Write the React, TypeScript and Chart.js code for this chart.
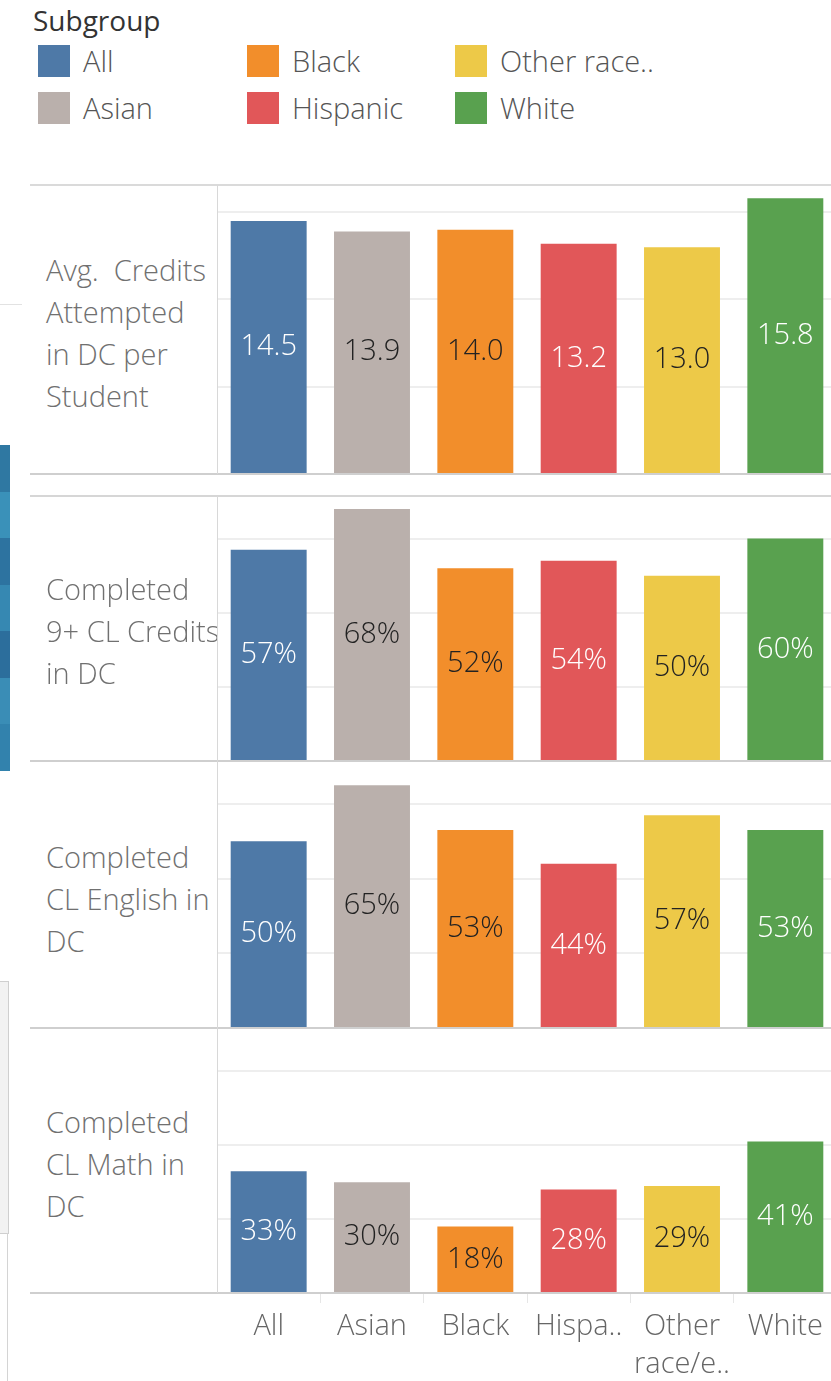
import React, { useEffect, useRef } from "react";
import { Chart, registerables } from "chart.js";

Chart.register(...registerables);

// Categories and labels
const subgroups = ["All", "Asian", "Black", "Hispanic", "Other race/ethnicity", "White"];
const axisLabels = [["All"], ["Asian"], ["Black"], ["Hispa.."], ["Other", "race/e.."], ["White"]];
const legendLabels = ["All", "Asian", "Black", "Hispanic", "Other race..", "White"];
const subgroupColors = ["#4e79a7", "#bab0ac", "#f28e2b", "#e15759", "#edc948", "#59a14f"];
const valueTextColors = ["#ffffff", "#222222", "#222222", "#ffffff", "#222222", "#ffffff"];

// Row headers, one entry per line
const metricTitles = [
  ["Avg.  Credits", "Attempted", "in DC per", "Student"],
  ["Completed", "9+ CL Credits", "in DC"],
  ["Completed", "CL English in", "DC"],
  ["Completed", "CL Math in", "DC"],
];

// Series values, in subgroup order
const avgCreditsAttempted = [14.5, 13.9, 14.0, 13.2, 13.0, 15.8];
const completed9PlusCredits = [57, 68, 52, 54, 50, 60];
const completedEnglish = [50, 65, 53, 44, 57, 53];
const completedMath = [33, 30, 18, 28, 29, 41];

// Gridline positions
const creditGridTicks = [0, 5, 10, 15];
const percentGridTicks = [0, 20, 40, 60];

const FONT = '"Open Sans", "Noto Sans", sans-serif';
const FONT_SIZE = 29;
const PLOT_LEFT = 217;
const PLOT_WIDTH = 620;
const AXIS_HEIGHT = 88;

type PanelProps = {
  values: number[];
  max: number;
  gridTicks: number[];
  format: (v: number) => string;
  top: number;
  plotHeight: number;
  showAxis: boolean;
};

function Panel({ values, max, gridTicks, format, top, plotHeight, showAxis }: PanelProps) {
  const ref = useRef<HTMLCanvasElement>(null);
  const height = plotHeight + (showAxis ? AXIS_HEIGHT : 0);

  useEffect(() => {
    const valueLabels = {
      id: "valueLabels",
      afterDatasetsDraw(chart: any) {
        const { ctx } = chart;
        const meta = chart.getDatasetMeta(0);
        ctx.save();
        ctx.font = `300 ${FONT_SIZE}px ${FONT}`;
        ctx.textAlign = "center";
        ctx.textBaseline = "middle";
        meta.data.forEach((bar: any, i: number) => {
          ctx.fillStyle = valueTextColors[i];
          ctx.fillText(format(values[i]), bar.x, (bar.y + bar.base) / 2);
        });
        ctx.restore();
      },
    };

    const chart = new Chart(ref.current as HTMLCanvasElement, {
      type: "bar",
      data: {
        labels: axisLabels as any,
        datasets: [
          {
            data: values,
            backgroundColor: subgroupColors,
            borderWidth: 0,
            barPercentage: 0.735,
            categoryPercentage: 1,
          },
        ],
      },
      options: {
        responsive: false,
        animation: false,
        devicePixelRatio: 1,
        layout: { padding: 0 },
        plugins: { legend: { display: false }, tooltip: { enabled: false } },
        scales: {
          x: {
            display: showAxis,
            offset: true,
            border: { display: false },
            grid: {
              display: true,
              offset: true,
              drawOnChartArea: false,
              drawTicks: true,
              tickLength: 10,
              color: "#e6e6e6",
              lineWidth: 1,
            },
            ticks: {
              autoSkip: false,
              maxRotation: 0,
              minRotation: 0,
              padding: 4,
              color: "#666666",
              font: { family: FONT, size: FONT_SIZE, weight: "300", lineHeight: 1.33 } as any,
            },
            afterFit: (scale: any) => {
              if (showAxis) scale.height = AXIS_HEIGHT;
            },
          },
          y: {
            display: true,
            min: 0,
            max,
            border: { display: false },
            grid: { color: "#eeeeee", lineWidth: 2, drawTicks: false },
            ticks: { display: false },
            afterBuildTicks: (scale: any) => {
              scale.ticks = gridTicks.map((v) => ({ value: v }));
            },
          },
        },
      },
      plugins: [valueLabels],
    });
    return () => chart.destroy();
  }, []);

  return (
    <canvas
      ref={ref}
      width={PLOT_WIDTH}
      height={height}
      style={{ position: "absolute", left: PLOT_LEFT, top, width: PLOT_WIDTH, height }}
    />
  );
}

function HLine({ y, color = "#cfcfcf" }: { y: number; color?: string }) {
  return (
    <div style={{ position: "absolute", left: 30, top: y - 1, width: 801, height: 2, background: color, zIndex: 2 }} />
  );
}

function VLine({ x, y1, y2 }: { x: number; y1: number; y2: number }) {
  return <div style={{ position: "absolute", left: x, top: y1, width: 1, height: y2 - y1, background: "#d8d8d8", zIndex: 2 }} />;
}

const panels = [
  { values: avgCreditsAttempted, max: 16.56, grid: creditGridTicks, fmt: (v: number) => v.toFixed(1), top: 185, h: 289, titleTop: 249 },
  { values: completed9PlusCredits, max: 71.5, grid: percentGridTicks, fmt: (v: number) => `${v}%`, top: 496, h: 265, titleTop: 568 },
  { values: completedEnglish, max: 71.5, grid: percentGridTicks, fmt: (v: number) => `${v}%`, top: 761, h: 267, titleTop: 836 },
  { values: completedMath, max: 71.5, grid: percentGridTicks, fmt: (v: number) => `${v}%`, top: 1029, h: 264, titleTop: 1101 },
];

// Legend laid out column by column: [All, Asian], [Black, Hispanic], [Other race.., White]
const legendColX = [38, 247, 455];
const legendRowY = [45, 92];

export default function App() {
  return (
    <div
      style={{
        position: "absolute",
        left: 0,
        top: 0,
        width: 831,
        height: 1381,
        overflow: "hidden",
        background: "#ffffff",
        fontFamily: FONT,
        fontWeight: 300,
      }}
    >
      {/* neighbouring dashboard pieces at the left edge */}
      <div style={{ position: "absolute", left: 0, top: 304, width: 22, height: 1, background: "#e2e2e2" }} />
      {["#2f78a2", "#3a91b9", "#2d73a0", "#3688b2", "#2c6e9c", "#3a8db6", "#3282ad"].map((c, i) => (
        <div key={i} style={{ position: "absolute", left: 0, top: 445 + i * 46.5, width: 10, height: 46.5, background: c }} />
      ))}
      <div style={{ position: "absolute", left: -2, top: 981, width: 9, height: 251, background: "#f2f2f2", border: "1px solid #cfcfcf" }} />
      <div style={{ position: "absolute", left: 7, top: 1233, width: 1, height: 148, background: "#d4d4d4" }} />

      {/* legend */}
      <div style={{ position: "absolute", left: 33, top: 2, fontSize: 28, lineHeight: "36px", color: "#333333", fontWeight: 400 }}>
        Subgroup
      </div>
      {legendLabels.map((label, i) => {
        const col = Math.floor(i / 2);
        const row = i % 2;
        const x = legendColX[col];
        const y = legendRowY[row];
        const idx = subgroups.findIndex((s) => s.startsWith(label.replace("..", "")));
        return (
          <React.Fragment key={label}>
            <div style={{ position: "absolute", left: x, top: y, width: 32, height: 32, background: subgroupColors[idx] }} />
            <div style={{ position: "absolute", left: x + 45, top: y - 2, fontSize: FONT_SIZE, lineHeight: "36px", color: "#555555", whiteSpace: "nowrap" }}>
              {label}
            </div>
          </React.Fragment>
        );
      })}

      {/* panels */}
      {panels.map((p, i) => (
        <Panel
          key={i}
          values={p.values}
          max={p.max}
          gridTicks={p.grid}
          format={p.fmt}
          top={p.top}
          plotHeight={p.h}
          showAxis={i === panels.length - 1}
        />
      ))}

      {/* row headers */}
      {panels.map((p, i) => (
        <div key={i} style={{ position: "absolute", left: 46, top: p.titleTop, fontSize: FONT_SIZE, lineHeight: "42px", color: "#707070", whiteSpace: "pre" }}>
          {metricTitles[i].map((line, j) => (
            <div key={j}>{line}</div>
          ))}
        </div>
      ))}

      {/* panel borders */}
      <HLine y={185} color="#dadada" />
      <HLine y={474} />
      <HLine y={496} color="#d6d6d6" />
      <HLine y={761} />
      <HLine y={1028} />
      <HLine y={1293} />
      <VLine x={217} y1={185} y2={474} />
      <VLine x={217} y1={496} y2={1293} />
    </div>
  );
}
